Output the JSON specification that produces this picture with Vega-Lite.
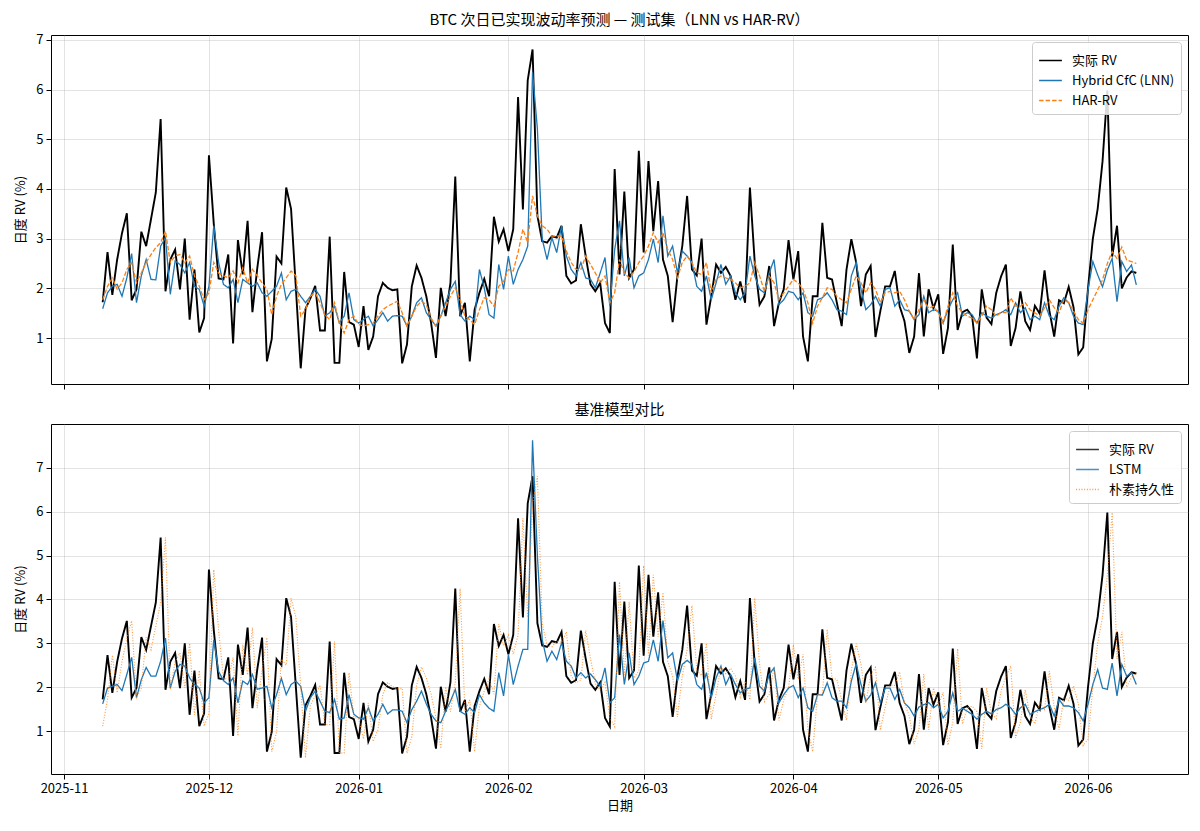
{
  "$schema": "https://vega.github.io/schema/vega-lite/v6.json",
  "background": "white",
  "padding": {"left": 13, "top": 12, "right": 5, "bottom": 5},
  "config": {
    "font": "Noto Sans CJK SC",
    "view": {"stroke": "#000000", "strokeWidth": 1},
    "axis": {
      "labelFontSize": 13, "labelColor": "#000000", "titleFontSize": 13, "titleFontWeight": "normal",
      "titleColor": "#000000", "tickColor": "#000000", "tickSize": 5, "labelPadding": 3,
      "domain": false, "gridColor": "#b0b0b0", "gridOpacity": 0.35
    },
    "title": {"fontSize": 15, "fontWeight": "normal", "color": "#000000", "offset": 6},
    "legend": {
      "orient": "top-right", "offset": 7, "fillColor": "rgba(255,255,255,0.85)", "strokeColor": "#cccccc",
      "cornerRadius": 3, "padding": 6, "labelFontSize": 13, "labelColor": "#000000", "symbolType": "stroke",
      "symbolSize": 520, "symbolStrokeWidth": 1.6, "rowPadding": 0, "labelOffset": 9
    },
    "concat": {"spacing": 12}
  },
  "resolve": {
    "scale": {"color": "independent", "strokeDash": "independent", "y": "independent"},
    "legend": {"color": "independent", "strokeDash": "independent"}
  },
  "datasets": {
    "rv": [
      {"date": "2025-11-09", "actual": 1.72, "naive": 1.11, "lnn": 1.59, "har": 1.77, "lstm": 1.62},
      {"date": "2025-11-10", "actual": 2.73, "naive": 1.72, "lnn": 1.91, "har": 2.04, "lstm": 1.98},
      {"date": "2025-11-11", "actual": 1.87, "naive": 2.73, "lnn": 2.04, "har": 2.21, "lstm": 2.02},
      {"date": "2025-11-12", "actual": 2.58, "naive": 1.87, "lnn": 2.08, "har": 1.98, "lstm": 2.06},
      {"date": "2025-11-13", "actual": 3.11, "naive": 2.58, "lnn": 1.84, "har": 2.11, "lstm": 1.92},
      {"date": "2025-11-14", "actual": 3.51, "naive": 3.11, "lnn": 2.21, "har": 2.38, "lstm": 2.29},
      {"date": "2025-11-15", "actual": 1.76, "naive": 3.51, "lnn": 2.70, "har": 2.52, "lstm": 2.68},
      {"date": "2025-11-16", "actual": 1.98, "naive": 1.76, "lnn": 1.71, "har": 2.11, "lstm": 1.76},
      {"date": "2025-11-17", "actual": 3.14, "naive": 1.98, "lnn": 2.25, "har": 2.31, "lstm": 2.17},
      {"date": "2025-11-18", "actual": 2.85, "naive": 3.14, "lnn": 2.58, "har": 2.52, "lstm": 2.45},
      {"date": "2025-11-19", "actual": 3.39, "naive": 2.85, "lnn": 2.18, "har": 2.68, "lstm": 2.25},
      {"date": "2025-11-20", "actual": 3.93, "naive": 3.39, "lnn": 2.17, "har": 2.82, "lstm": 2.25},
      {"date": "2025-11-21", "actual": 5.41, "naive": 3.93, "lnn": 2.85, "har": 2.92, "lstm": 2.59},
      {"date": "2025-11-22", "actual": 1.94, "naive": 5.41, "lnn": 3.02, "har": 3.15, "lstm": 3.12},
      {"date": "2025-11-23", "actual": 2.58, "naive": 1.94, "lnn": 1.88, "har": 2.52, "lstm": 1.98},
      {"date": "2025-11-24", "actual": 2.78, "naive": 2.58, "lnn": 2.55, "har": 2.65, "lstm": 2.36},
      {"date": "2025-11-25", "actual": 1.98, "naive": 2.78, "lnn": 2.48, "har": 2.68, "lstm": 2.52},
      {"date": "2025-11-26", "actual": 3.00, "naive": 1.98, "lnn": 2.31, "har": 2.52, "lstm": 2.48},
      {"date": "2025-11-27", "actual": 1.37, "naive": 3.00, "lnn": 2.52, "har": 2.65, "lstm": 2.21},
      {"date": "2025-11-28", "actual": 2.38, "naive": 1.37, "lnn": 2.04, "har": 2.25, "lstm": 2.06},
      {"date": "2025-11-29", "actual": 1.11, "naive": 2.38, "lnn": 1.98, "har": 2.04, "lstm": 1.98},
      {"date": "2025-11-30", "actual": 1.40, "naive": 1.11, "lnn": 1.64, "har": 1.77, "lstm": 1.64},
      {"date": "2025-12-01", "actual": 4.68, "naive": 1.40, "lnn": 2.04, "har": 1.91, "lstm": 1.76},
      {"date": "2025-12-02", "actual": 3.30, "naive": 4.68, "lnn": 3.26, "har": 2.52, "lstm": 3.08},
      {"date": "2025-12-03", "actual": 2.20, "naive": 3.30, "lnn": 2.52, "har": 2.31, "lstm": 2.36},
      {"date": "2025-12-04", "actual": 2.18, "naive": 2.20, "lnn": 2.08, "har": 2.25, "lstm": 2.15},
      {"date": "2025-12-05", "actual": 2.68, "naive": 2.18, "lnn": 2.01, "har": 2.21, "lstm": 2.06},
      {"date": "2025-12-06", "actual": 0.89, "naive": 2.68, "lnn": 2.18, "har": 2.35, "lstm": 2.21},
      {"date": "2025-12-07", "actual": 2.97, "naive": 0.89, "lnn": 1.71, "har": 2.11, "lstm": 1.64},
      {"date": "2025-12-08", "actual": 2.28, "naive": 2.97, "lnn": 2.18, "har": 2.41, "lstm": 2.14},
      {"date": "2025-12-09", "actual": 3.36, "naive": 2.28, "lnn": 2.11, "har": 2.11, "lstm": 2.06},
      {"date": "2025-12-10", "actual": 1.52, "naive": 3.36, "lnn": 2.04, "har": 2.38, "lstm": 2.29},
      {"date": "2025-12-11", "actual": 2.40, "naive": 1.52, "lnn": 2.11, "har": 2.25, "lstm": 1.95},
      {"date": "2025-12-12", "actual": 3.13, "naive": 2.40, "lnn": 1.91, "har": 2.11, "lstm": 1.98},
      {"date": "2025-12-13", "actual": 0.53, "naive": 3.13, "lnn": 1.84, "har": 1.98, "lstm": 2.02},
      {"date": "2025-12-14", "actual": 0.98, "naive": 0.53, "lnn": 1.94, "har": 1.47, "lstm": 1.53},
      {"date": "2025-12-15", "actual": 2.64, "naive": 0.98, "lnn": 2.04, "har": 1.84, "lstm": 1.83},
      {"date": "2025-12-16", "actual": 2.50, "naive": 2.64, "lnn": 2.31, "har": 2.08, "lstm": 2.20},
      {"date": "2025-12-17", "actual": 4.03, "naive": 2.50, "lnn": 1.77, "har": 2.21, "lstm": 1.83},
      {"date": "2025-12-18", "actual": 3.60, "naive": 4.03, "lnn": 1.94, "har": 2.35, "lstm": 2.06},
      {"date": "2025-12-19", "actual": 2.00, "naive": 3.60, "lnn": 1.98, "har": 2.25, "lstm": 2.14},
      {"date": "2025-12-20", "actual": 0.39, "naive": 2.00, "lnn": 1.84, "har": 1.44, "lstm": 2.02},
      {"date": "2025-12-21", "actual": 1.59, "naive": 0.39, "lnn": 1.71, "har": 1.57, "lstm": 1.45},
      {"date": "2025-12-22", "actual": 1.80, "naive": 1.59, "lnn": 1.84, "har": 1.84, "lstm": 1.76},
      {"date": "2025-12-23", "actual": 2.05, "naive": 1.80, "lnn": 1.98, "har": 1.91, "lstm": 1.91},
      {"date": "2025-12-24", "actual": 1.15, "naive": 2.05, "lnn": 1.84, "har": 1.71, "lstm": 1.68},
      {"date": "2025-12-25", "actual": 1.15, "naive": 1.15, "lnn": 1.44, "har": 1.47, "lstm": 1.45},
      {"date": "2025-12-26", "actual": 3.04, "naive": 1.15, "lnn": 1.51, "har": 1.37, "lstm": 1.42},
      {"date": "2025-12-27", "actual": 0.50, "naive": 3.04, "lnn": 1.64, "har": 1.71, "lstm": 1.72},
      {"date": "2025-12-28", "actual": 0.50, "naive": 0.50, "lnn": 1.30, "har": 1.30, "lstm": 1.27},
      {"date": "2025-12-29", "actual": 2.33, "naive": 0.50, "lnn": 1.44, "har": 1.10, "lstm": 1.30},
      {"date": "2025-12-30", "actual": 1.32, "naive": 2.33, "lnn": 1.91, "har": 1.37, "lstm": 1.83},
      {"date": "2025-12-31", "actual": 1.27, "naive": 1.32, "lnn": 1.37, "har": 1.44, "lstm": 1.38},
      {"date": "2026-01-01", "actual": 0.82, "naive": 1.27, "lnn": 1.30, "har": 1.27, "lstm": 1.30},
      {"date": "2026-01-02", "actual": 1.64, "naive": 0.82, "lnn": 1.37, "har": 1.24, "lstm": 1.27},
      {"date": "2026-01-03", "actual": 0.76, "naive": 1.64, "lnn": 1.44, "har": 1.27, "lstm": 1.53},
      {"date": "2026-01-04", "actual": 1.03, "naive": 0.76, "lnn": 1.24, "har": 1.30, "lstm": 1.23},
      {"date": "2026-01-05", "actual": 1.84, "naive": 1.03, "lnn": 1.37, "har": 1.44, "lstm": 1.38},
      {"date": "2026-01-06", "actual": 2.11, "naive": 1.84, "lnn": 1.51, "har": 1.57, "lstm": 1.61},
      {"date": "2026-01-07", "actual": 2.01, "naive": 2.11, "lnn": 1.34, "har": 1.64, "lstm": 1.39},
      {"date": "2026-01-08", "actual": 1.96, "naive": 2.01, "lnn": 1.44, "har": 1.69, "lstm": 1.48},
      {"date": "2026-01-09", "actual": 1.98, "naive": 1.96, "lnn": 1.45, "har": 1.74, "lstm": 1.48},
      {"date": "2026-01-10", "actual": 0.49, "naive": 1.98, "lnn": 1.44, "har": 1.51, "lstm": 1.45},
      {"date": "2026-01-11", "actual": 0.87, "naive": 0.49, "lnn": 1.24, "har": 1.24, "lstm": 1.19},
      {"date": "2026-01-12", "actual": 2.04, "naive": 0.87, "lnn": 1.44, "har": 1.44, "lstm": 1.49},
      {"date": "2026-01-13", "actual": 2.46, "naive": 2.04, "lnn": 1.71, "har": 1.64, "lstm": 1.68},
      {"date": "2026-01-14", "actual": 2.21, "naive": 2.46, "lnn": 1.81, "har": 1.74, "lstm": 1.91},
      {"date": "2026-01-15", "actual": 1.84, "naive": 2.21, "lnn": 1.51, "har": 1.67, "lstm": 1.62},
      {"date": "2026-01-16", "actual": 1.30, "naive": 1.84, "lnn": 1.37, "har": 1.40, "lstm": 1.38},
      {"date": "2026-01-17", "actual": 0.60, "naive": 1.30, "lnn": 1.24, "har": 1.24, "lstm": 1.23},
      {"date": "2026-01-18", "actual": 2.01, "naive": 0.60, "lnn": 1.44, "har": 1.44, "lstm": 1.19},
      {"date": "2026-01-19", "actual": 1.44, "naive": 2.01, "lnn": 1.71, "har": 1.64, "lstm": 1.45},
      {"date": "2026-01-20", "actual": 2.11, "naive": 1.44, "lnn": 1.98, "har": 1.84, "lstm": 1.68},
      {"date": "2026-01-21", "actual": 4.25, "naive": 2.11, "lnn": 2.14, "har": 2.01, "lstm": 1.95},
      {"date": "2026-01-22", "actual": 1.44, "naive": 4.25, "lnn": 1.47, "har": 1.77, "lstm": 1.45},
      {"date": "2026-01-23", "actual": 1.71, "naive": 1.44, "lnn": 1.34, "har": 1.44, "lstm": 1.38},
      {"date": "2026-01-24", "actual": 0.53, "naive": 1.71, "lnn": 1.44, "har": 1.37, "lstm": 1.53},
      {"date": "2026-01-25", "actual": 1.57, "naive": 0.53, "lnn": 1.37, "har": 1.27, "lstm": 1.42},
      {"date": "2026-01-26", "actual": 1.91, "naive": 1.57, "lnn": 2.38, "har": 1.57, "lstm": 1.83},
      {"date": "2026-01-27", "actual": 2.19, "naive": 1.91, "lnn": 2.01, "har": 1.81, "lstm": 1.64},
      {"date": "2026-01-28", "actual": 1.84, "naive": 2.19, "lnn": 1.47, "har": 1.77, "lstm": 1.52},
      {"date": "2026-01-29", "actual": 3.44, "naive": 1.84, "lnn": 1.40, "har": 1.64, "lstm": 1.45},
      {"date": "2026-01-30", "actual": 2.94, "naive": 3.44, "lnn": 2.48, "har": 2.04, "lstm": 2.33},
      {"date": "2026-01-31", "actual": 3.19, "naive": 2.94, "lnn": 1.98, "har": 2.14, "lstm": 1.80},
      {"date": "2026-02-01", "actual": 2.75, "naive": 3.19, "lnn": 2.65, "har": 2.38, "lstm": 2.74},
      {"date": "2026-02-02", "actual": 3.19, "naive": 2.75, "lnn": 2.08, "har": 2.35, "lstm": 2.06},
      {"date": "2026-02-03", "actual": 5.85, "naive": 3.19, "lnn": 2.38, "har": 2.72, "lstm": 2.48},
      {"date": "2026-02-04", "actual": 3.59, "naive": 5.85, "lnn": 2.58, "har": 3.19, "lstm": 2.86},
      {"date": "2026-02-05", "actual": 6.19, "naive": 3.59, "lnn": 2.85, "har": 2.92, "lstm": 2.86},
      {"date": "2026-02-06", "actual": 6.81, "naive": 6.19, "lnn": 6.35, "har": 3.86, "lstm": 7.63},
      {"date": "2026-02-07", "actual": 3.46, "naive": 6.81, "lnn": 5.21, "har": 3.46, "lstm": 5.00},
      {"date": "2026-02-08", "actual": 2.95, "naive": 3.46, "lnn": 2.99, "har": 3.26, "lstm": 3.08},
      {"date": "2026-02-09", "actual": 2.92, "naive": 2.95, "lnn": 2.58, "har": 3.19, "lstm": 2.59},
      {"date": "2026-02-10", "actual": 3.05, "naive": 2.92, "lnn": 3.02, "har": 3.05, "lstm": 2.82},
      {"date": "2026-02-11", "actual": 3.02, "naive": 3.05, "lnn": 2.72, "har": 3.05, "lstm": 2.63},
      {"date": "2026-02-12", "actual": 3.26, "naive": 3.02, "lnn": 3.26, "har": 3.05, "lstm": 3.01},
      {"date": "2026-02-13", "actual": 2.25, "naive": 3.26, "lnn": 2.65, "har": 2.75, "lstm": 2.59},
      {"date": "2026-02-14", "actual": 2.10, "naive": 2.25, "lnn": 2.38, "har": 2.52, "lstm": 2.48},
      {"date": "2026-02-15", "actual": 2.16, "naive": 2.10, "lnn": 2.25, "har": 2.38, "lstm": 2.21},
      {"date": "2026-02-16", "actual": 3.29, "naive": 2.16, "lnn": 2.52, "har": 2.38, "lstm": 2.33},
      {"date": "2026-02-17", "actual": 2.65, "naive": 3.29, "lnn": 2.21, "har": 2.65, "lstm": 2.21},
      {"date": "2026-02-18", "actual": 2.08, "naive": 2.65, "lnn": 2.18, "har": 2.48, "lstm": 2.30},
      {"date": "2026-02-19", "actual": 1.94, "naive": 2.08, "lnn": 2.01, "har": 2.31, "lstm": 2.17},
      {"date": "2026-02-20", "actual": 2.11, "naive": 1.94, "lnn": 2.31, "har": 2.11, "lstm": 2.02},
      {"date": "2026-02-21", "actual": 1.30, "naive": 2.11, "lnn": 2.62, "har": 2.25, "lstm": 2.44},
      {"date": "2026-02-22", "actual": 1.10, "naive": 1.30, "lnn": 1.64, "har": 1.71, "lstm": 1.64},
      {"date": "2026-02-23", "actual": 4.40, "naive": 1.10, "lnn": 2.78, "har": 1.91, "lstm": 1.76},
      {"date": "2026-02-24", "actual": 2.28, "naive": 4.40, "lnn": 3.36, "har": 2.58, "lstm": 3.20},
      {"date": "2026-02-25", "actual": 3.95, "naive": 2.28, "lnn": 2.25, "har": 2.31, "lstm": 2.06},
      {"date": "2026-02-26", "actual": 2.21, "naive": 3.95, "lnn": 2.62, "har": 2.21, "lstm": 2.78},
      {"date": "2026-02-27", "actual": 2.38, "naive": 2.21, "lnn": 2.01, "har": 2.33, "lstm": 2.06},
      {"date": "2026-02-28", "actual": 4.77, "naive": 2.38, "lnn": 2.25, "har": 2.52, "lstm": 2.25},
      {"date": "2026-03-01", "actual": 2.72, "naive": 4.77, "lnn": 2.31, "har": 2.65, "lstm": 2.55},
      {"date": "2026-03-02", "actual": 4.56, "naive": 2.72, "lnn": 2.58, "har": 2.85, "lstm": 2.59},
      {"date": "2026-03-03", "actual": 3.15, "naive": 4.56, "lnn": 2.99, "har": 3.12, "lstm": 3.08},
      {"date": "2026-03-04", "actual": 4.16, "naive": 3.15, "lnn": 2.52, "har": 2.92, "lstm": 2.59},
      {"date": "2026-03-05", "actual": 2.58, "naive": 4.16, "lnn": 3.46, "har": 3.12, "lstm": 3.52},
      {"date": "2026-03-06", "actual": 2.25, "naive": 2.58, "lnn": 2.65, "har": 2.78, "lstm": 2.67},
      {"date": "2026-03-07", "actual": 1.32, "naive": 2.25, "lnn": 2.85, "har": 2.58, "lstm": 2.78},
      {"date": "2026-03-08", "actual": 2.25, "naive": 1.32, "lnn": 2.31, "har": 2.21, "lstm": 2.14},
      {"date": "2026-03-09", "actual": 2.85, "naive": 2.25, "lnn": 2.75, "har": 2.52, "lstm": 2.52},
      {"date": "2026-03-10", "actual": 3.86, "naive": 2.85, "lnn": 2.65, "har": 2.65, "lstm": 2.61},
      {"date": "2026-03-11", "actual": 2.38, "naive": 3.86, "lnn": 2.52, "har": 2.52, "lstm": 2.52},
      {"date": "2026-03-12", "actual": 2.26, "naive": 2.38, "lnn": 2.04, "har": 2.31, "lstm": 2.06},
      {"date": "2026-03-13", "actual": 3.00, "naive": 2.26, "lnn": 1.94, "har": 2.28, "lstm": 1.95},
      {"date": "2026-03-14", "actual": 1.27, "naive": 3.00, "lnn": 2.25, "har": 2.52, "lstm": 2.33},
      {"date": "2026-03-15", "actual": 1.84, "naive": 1.27, "lnn": 1.77, "har": 1.91, "lstm": 1.76},
      {"date": "2026-03-16", "actual": 2.48, "naive": 1.84, "lnn": 2.11, "har": 2.18, "lstm": 2.21},
      {"date": "2026-03-17", "actual": 2.31, "naive": 2.48, "lnn": 2.48, "har": 2.25, "lstm": 2.48},
      {"date": "2026-03-18", "actual": 2.43, "naive": 2.31, "lnn": 2.08, "har": 2.21, "lstm": 2.06},
      {"date": "2026-03-19", "actual": 2.25, "naive": 2.43, "lnn": 2.25, "har": 2.18, "lstm": 2.29},
      {"date": "2026-03-20", "actual": 1.77, "naive": 2.25, "lnn": 1.91, "har": 2.11, "lstm": 2.06},
      {"date": "2026-03-21", "actual": 2.14, "naive": 1.77, "lnn": 1.77, "har": 2.01, "lstm": 1.87},
      {"date": "2026-03-22", "actual": 1.71, "naive": 2.14, "lnn": 1.91, "har": 2.04, "lstm": 1.95},
      {"date": "2026-03-23", "actual": 4.03, "naive": 1.71, "lnn": 2.65, "har": 2.11, "lstm": 1.98},
      {"date": "2026-03-24", "actual": 2.52, "naive": 4.03, "lnn": 2.25, "har": 2.52, "lstm": 2.67},
      {"date": "2026-03-25", "actual": 1.67, "naive": 2.52, "lnn": 1.98, "har": 2.25, "lstm": 2.02},
      {"date": "2026-03-26", "actual": 1.84, "naive": 1.67, "lnn": 1.91, "har": 1.94, "lstm": 1.91},
      {"date": "2026-03-27", "actual": 2.45, "naive": 1.84, "lnn": 2.31, "har": 2.25, "lstm": 2.29},
      {"date": "2026-03-28", "actual": 1.24, "naive": 2.45, "lnn": 2.58, "har": 2.11, "lstm": 2.44},
      {"date": "2026-03-29", "actual": 1.71, "naive": 1.24, "lnn": 1.67, "har": 1.77, "lstm": 1.64},
      {"date": "2026-03-30", "actual": 1.98, "naive": 1.71, "lnn": 1.77, "har": 1.91, "lstm": 1.83},
      {"date": "2026-03-31", "actual": 2.97, "naive": 1.98, "lnn": 1.94, "har": 2.04, "lstm": 1.98},
      {"date": "2026-04-01", "actual": 2.18, "naive": 2.97, "lnn": 1.91, "har": 2.18, "lstm": 2.04},
      {"date": "2026-04-02", "actual": 2.75, "naive": 2.18, "lnn": 1.77, "har": 2.11, "lstm": 1.76},
      {"date": "2026-04-03", "actual": 1.03, "naive": 2.75, "lnn": 1.91, "har": 1.98, "lstm": 1.98},
      {"date": "2026-04-04", "actual": 0.53, "naive": 1.03, "lnn": 1.51, "har": 1.71, "lstm": 1.53},
      {"date": "2026-04-05", "actual": 1.84, "naive": 0.53, "lnn": 1.44, "har": 1.30, "lstm": 1.45},
      {"date": "2026-04-06", "actual": 1.84, "naive": 1.84, "lnn": 1.77, "har": 1.64, "lstm": 1.83},
      {"date": "2026-04-07", "actual": 3.32, "naive": 1.84, "lnn": 1.81, "har": 1.81, "lstm": 1.82},
      {"date": "2026-04-08", "actual": 2.21, "naive": 3.32, "lnn": 1.91, "har": 2.01, "lstm": 2.10},
      {"date": "2026-04-09", "actual": 2.18, "naive": 2.21, "lnn": 1.77, "har": 1.98, "lstm": 1.76},
      {"date": "2026-04-10", "actual": 1.71, "naive": 2.18, "lnn": 1.57, "har": 1.84, "lstm": 1.68},
      {"date": "2026-04-11", "actual": 1.24, "naive": 1.71, "lnn": 1.54, "har": 1.77, "lstm": 1.68},
      {"date": "2026-04-12", "actual": 2.38, "naive": 1.24, "lnn": 1.47, "har": 1.71, "lstm": 1.53},
      {"date": "2026-04-13", "actual": 2.99, "naive": 2.38, "lnn": 2.25, "har": 1.98, "lstm": 2.14},
      {"date": "2026-04-14", "actual": 2.52, "naive": 2.99, "lnn": 2.52, "har": 2.25, "lstm": 2.53},
      {"date": "2026-04-15", "actual": 1.64, "naive": 2.52, "lnn": 1.98, "har": 2.11, "lstm": 2.06},
      {"date": "2026-04-16", "actual": 2.28, "naive": 1.64, "lnn": 1.57, "har": 1.91, "lstm": 1.68},
      {"date": "2026-04-17", "actual": 2.45, "naive": 2.28, "lnn": 1.67, "har": 2.11, "lstm": 1.82},
      {"date": "2026-04-18", "actual": 1.02, "naive": 2.45, "lnn": 1.84, "har": 1.98, "lstm": 2.10},
      {"date": "2026-04-19", "actual": 1.54, "naive": 1.02, "lnn": 1.64, "har": 1.71, "lstm": 1.64},
      {"date": "2026-04-20", "actual": 2.04, "naive": 1.54, "lnn": 1.98, "har": 1.91, "lstm": 1.98},
      {"date": "2026-04-21", "actual": 2.04, "naive": 2.04, "lnn": 2.01, "har": 1.94, "lstm": 1.98},
      {"date": "2026-04-22", "actual": 2.35, "naive": 2.04, "lnn": 1.64, "har": 1.91, "lstm": 1.72},
      {"date": "2026-04-23", "actual": 1.64, "naive": 2.35, "lnn": 1.77, "har": 1.94, "lstm": 1.95},
      {"date": "2026-04-24", "actual": 1.34, "naive": 1.64, "lnn": 1.57, "har": 1.77, "lstm": 1.64},
      {"date": "2026-04-25", "actual": 0.70, "naive": 1.34, "lnn": 1.54, "har": 1.54, "lstm": 1.53},
      {"date": "2026-04-26", "actual": 1.03, "naive": 0.70, "lnn": 1.37, "har": 1.37, "lstm": 1.34},
      {"date": "2026-04-27", "actual": 2.30, "naive": 1.03, "lnn": 1.47, "har": 1.57, "lstm": 1.55},
      {"date": "2026-04-28", "actual": 1.03, "naive": 2.30, "lnn": 1.84, "har": 1.77, "lstm": 1.60},
      {"date": "2026-04-29", "actual": 1.98, "naive": 1.03, "lnn": 1.51, "har": 1.60, "lstm": 1.65},
      {"date": "2026-04-30", "actual": 1.60, "naive": 1.98, "lnn": 1.57, "har": 1.64, "lstm": 1.53},
      {"date": "2026-05-01", "actual": 1.88, "naive": 1.60, "lnn": 1.54, "har": 1.51, "lstm": 1.61},
      {"date": "2026-05-02", "actual": 0.68, "naive": 1.88, "lnn": 1.30, "har": 1.30, "lstm": 1.30},
      {"date": "2026-05-03", "actual": 1.20, "naive": 0.68, "lnn": 1.57, "har": 1.64, "lstm": 1.45},
      {"date": "2026-05-04", "actual": 2.88, "naive": 1.20, "lnn": 1.77, "har": 1.91, "lstm": 1.87},
      {"date": "2026-05-05", "actual": 1.16, "naive": 2.88, "lnn": 1.91, "har": 1.64, "lstm": 1.45},
      {"date": "2026-05-06", "actual": 1.52, "naive": 1.16, "lnn": 1.44, "har": 1.51, "lstm": 1.52},
      {"date": "2026-05-07", "actual": 1.57, "naive": 1.52, "lnn": 1.51, "har": 1.44, "lstm": 1.45},
      {"date": "2026-05-08", "actual": 1.44, "naive": 1.57, "lnn": 1.47, "har": 1.40, "lstm": 1.38},
      {"date": "2026-05-09", "actual": 0.59, "naive": 1.44, "lnn": 1.30, "har": 1.30, "lstm": 1.27},
      {"date": "2026-05-10", "actual": 1.98, "naive": 0.59, "lnn": 1.51, "har": 1.44, "lstm": 1.38},
      {"date": "2026-05-11", "actual": 1.41, "naive": 1.98, "lnn": 1.44, "har": 1.64, "lstm": 1.45},
      {"date": "2026-05-12", "actual": 1.28, "naive": 1.41, "lnn": 1.40, "har": 1.57, "lstm": 1.39},
      {"date": "2026-05-13", "actual": 1.91, "naive": 1.28, "lnn": 1.47, "har": 1.44, "lstm": 1.49},
      {"date": "2026-05-14", "actual": 2.24, "naive": 1.91, "lnn": 1.51, "har": 1.51, "lstm": 1.53},
      {"date": "2026-05-15", "actual": 2.48, "naive": 2.24, "lnn": 1.57, "har": 1.51, "lstm": 1.61},
      {"date": "2026-05-16", "actual": 0.84, "naive": 2.48, "lnn": 1.47, "har": 1.81, "lstm": 1.53},
      {"date": "2026-05-17", "actual": 1.20, "naive": 0.84, "lnn": 1.71, "har": 1.64, "lstm": 1.38},
      {"date": "2026-05-18", "actual": 1.94, "naive": 1.20, "lnn": 1.51, "har": 1.64, "lstm": 1.53},
      {"date": "2026-05-19", "actual": 1.34, "naive": 1.94, "lnn": 1.61, "har": 1.71, "lstm": 1.61},
      {"date": "2026-05-20", "actual": 1.16, "naive": 1.34, "lnn": 1.37, "har": 1.57, "lstm": 1.38},
      {"date": "2026-05-21", "actual": 1.65, "naive": 1.16, "lnn": 1.44, "har": 1.51, "lstm": 1.44},
      {"date": "2026-05-22", "actual": 1.49, "naive": 1.65, "lnn": 1.37, "har": 1.44, "lstm": 1.49},
      {"date": "2026-05-23", "actual": 2.36, "naive": 1.49, "lnn": 1.71, "har": 1.61, "lstm": 1.53},
      {"date": "2026-05-24", "actual": 1.55, "naive": 2.36, "lnn": 1.44, "har": 1.77, "lstm": 1.61},
      {"date": "2026-05-25", "actual": 1.03, "naive": 1.55, "lnn": 1.37, "har": 1.61, "lstm": 1.34},
      {"date": "2026-05-26", "actual": 1.76, "naive": 1.03, "lnn": 1.64, "har": 1.51, "lstm": 1.72},
      {"date": "2026-05-27", "actual": 1.70, "naive": 1.76, "lnn": 1.81, "har": 1.77, "lstm": 1.57},
      {"date": "2026-05-28", "actual": 2.03, "naive": 1.70, "lnn": 1.71, "har": 1.71, "lstm": 1.57},
      {"date": "2026-05-29", "actual": 1.62, "naive": 2.03, "lnn": 1.44, "har": 1.54, "lstm": 1.53},
      {"date": "2026-05-30", "actual": 0.67, "naive": 1.62, "lnn": 1.30, "har": 1.37, "lstm": 1.42},
      {"date": "2026-05-31", "actual": 0.81, "naive": 0.67, "lnn": 1.27, "har": 1.30, "lstm": 1.23},
      {"date": "2026-06-01", "actual": 2.00, "naive": 0.81, "lnn": 1.97, "har": 1.57, "lstm": 1.61},
      {"date": "2026-06-02", "actual": 3.00, "naive": 2.00, "lnn": 2.54, "har": 1.77, "lstm": 2.06},
      {"date": "2026-06-03", "actual": 3.60, "naive": 3.00, "lnn": 2.27, "har": 1.97, "lstm": 2.40},
      {"date": "2026-06-04", "actual": 4.55, "naive": 3.60, "lnn": 2.03, "har": 2.17, "lstm": 1.98},
      {"date": "2026-06-05", "actual": 5.98, "naive": 4.55, "lnn": 2.37, "har": 2.50, "lstm": 1.95},
      {"date": "2026-06-06", "actual": 2.64, "naive": 5.98, "lnn": 2.60, "har": 2.74, "lstm": 2.55},
      {"date": "2026-06-07", "actual": 3.26, "naive": 2.64, "lnn": 1.73, "har": 2.60, "lstm": 1.80},
      {"date": "2026-06-08", "actual": 2.00, "naive": 3.26, "lnn": 2.54, "har": 2.83, "lstm": 2.52},
      {"date": "2026-06-09", "actual": 2.22, "naive": 2.00, "lnn": 2.34, "har": 2.57, "lstm": 2.25},
      {"date": "2026-06-10", "actual": 2.34, "naive": 2.22, "lnn": 2.47, "har": 2.54, "lstm": 2.33},
      {"date": "2026-06-11", "actual": 2.31, "naive": 2.34, "lnn": 2.07, "har": 2.50, "lstm": 2.06}
    ]
  },
  "vconcat": [
    {
      "width": 1137,
      "height": 349,
      "title": {"text": "BTC 次日已实现波动率预测 — 测试集（LNN vs HAR-RV）"},
      "data": {"name": "rv"},
      "encoding": {
        "x": {
          "field": "date", "type": "temporal",
          "scale": {"type": "utc", "domain": [
            {"year": 2025, "month": 10, "date": 29, "hours": 7, "minutes": 12, "utc": true},
            {"year": 2026, "month": 6, "date": 21, "hours": 16, "minutes": 48, "utc": true}]},
          "axis": {"title": null, "labels": false, "tickCount": {"interval": "month", "step": 1}}
        }
      },
      "layer": [
        {
          "mark": {"type": "line", "strokeWidth": 1.9},
          "encoding": {
            "y": {"field": "actual", "type": "quantitative", "scale": {"domain": [0.074, 7.1], "nice": false, "zero": false},
                  "axis": {"title": "日度 RV (%)", "values": [1, 2, 3, 4, 5, 6, 7], "titlePadding": 6, "minExtent": 18, "maxExtent": 18}},
            "color": {"datum": "实际 RV", "type": "nominal",
                      "scale": {"domain": ["实际 RV", "Hybrid CfC (LNN)", "HAR-RV"], "range": ["#000000", "#1f77b4", "#ff7f0e"]},
                      "legend": {"title": null}},
            "strokeDash": {"datum": "实际 RV", "type": "nominal",
                           "scale": {"domain": ["实际 RV", "Hybrid CfC (LNN)", "HAR-RV"], "range": [[1, 0], [1, 0], [4.5, 2]]},
                           "legend": {"title": null}}
          }
        },
        {
          "mark": {"type": "line", "strokeWidth": 1.3},
          "encoding": {
            "y": {"field": "lnn", "type": "quantitative", "scale": {"domain": [0.074, 7.1], "nice": false, "zero": false},
                  "axis": {"title": "日度 RV (%)", "values": [1, 2, 3, 4, 5, 6, 7], "titlePadding": 6, "minExtent": 18, "maxExtent": 18}},
            "color": {"datum": "Hybrid CfC (LNN)", "type": "nominal"},
            "strokeDash": {"datum": "Hybrid CfC (LNN)", "type": "nominal"}
          }
        },
        {
          "mark": {"type": "line", "strokeWidth": 1.3},
          "encoding": {
            "y": {"field": "har", "type": "quantitative", "scale": {"domain": [0.074, 7.1], "nice": false, "zero": false},
                  "axis": {"title": "日度 RV (%)", "values": [1, 2, 3, 4, 5, 6, 7], "titlePadding": 6, "minExtent": 18, "maxExtent": 18}},
            "color": {"datum": "HAR-RV", "type": "nominal"},
            "strokeDash": {"datum": "HAR-RV", "type": "nominal"}
          }
        }
      ]
    },
    {
      "width": 1137,
      "height": 350,
      "title": {"text": "基准模型对比"},
      "data": {"name": "rv"},
      "encoding": {
        "x": {
          "field": "date", "type": "temporal",
          "scale": {"type": "utc", "domain": [
            {"year": 2025, "month": 10, "date": 29, "hours": 7, "minutes": 12, "utc": true},
            {"year": 2026, "month": 6, "date": 21, "hours": 16, "minutes": 48, "utc": true}]},
          "axis": {"title": "日期", "titlePadding": 4, "labelExpr": "utcFormat(datum.value, '%Y-%m')", "labelFlush": false,
                   "tickCount": {"interval": "month", "step": 1}}
        }
      },
      "layer": [
        {
          "mark": {"type": "line", "strokeWidth": 1.9},
          "encoding": {
            "y": {"field": "actual", "type": "quantitative", "scale": {"domain": [0.02, 8.0], "nice": false, "zero": false},
                  "axis": {"title": "日度 RV (%)", "values": [1, 2, 3, 4, 5, 6, 7], "titlePadding": 6, "minExtent": 18, "maxExtent": 18}},
            "color": {"datum": "实际 RV", "type": "nominal",
                      "scale": {"domain": ["实际 RV", "LSTM", "朴素持久性"], "range": ["#000000", "#1f77b4", "#ff7f0e"]},
                      "legend": {"title": null}},
            "strokeDash": {"datum": "实际 RV", "type": "nominal",
                           "scale": {"domain": ["实际 RV", "LSTM", "朴素持久性"], "range": [[1, 0], [1, 0], [1, 1.7]]},
                           "legend": {"title": null}}
          }
        },
        {
          "mark": {"type": "line", "strokeWidth": 1.3},
          "encoding": {
            "y": {"field": "lstm", "type": "quantitative", "scale": {"domain": [0.02, 8.0], "nice": false, "zero": false},
                  "axis": {"title": "日度 RV (%)", "values": [1, 2, 3, 4, 5, 6, 7], "titlePadding": 6, "minExtent": 18, "maxExtent": 18}},
            "color": {"datum": "LSTM", "type": "nominal"},
            "strokeDash": {"datum": "LSTM", "type": "nominal"}
          }
        },
        {
          "mark": {"type": "line", "strokeWidth": 1.1, "opacity": 0.8},
          "encoding": {
            "y": {"field": "naive", "type": "quantitative", "scale": {"domain": [0.02, 8.0], "nice": false, "zero": false},
                  "axis": {"title": "日度 RV (%)", "values": [1, 2, 3, 4, 5, 6, 7], "titlePadding": 6, "minExtent": 18, "maxExtent": 18}},
            "color": {"datum": "朴素持久性", "type": "nominal"},
            "strokeDash": {"datum": "朴素持久性", "type": "nominal"}
          }
        }
      ]
    }
  ]
}
